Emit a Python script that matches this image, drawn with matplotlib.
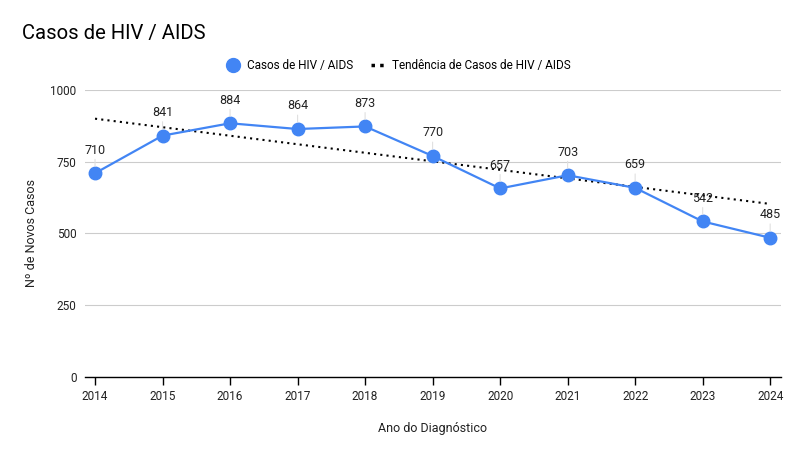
import matplotlib
matplotlib.use('Agg')
import matplotlib.pyplot as plt
from matplotlib.lines import Line2D

plt.rcParams['font.family'] = ['Roboto', 'DejaVu Sans']

# ════════════════ 数据 ════════════════
anos = [2014, 2015, 2016, 2017, 2018, 2019, 2020, 2021, 2022, 2023, 2024]
casos = [710, 841, 884, 864, 873, 770, 657, 703, 659, 542, 485]
# trend line (start / end)
tendencia_anos = [2014, 2024]
tendencia_vals = [900, 603]
yticks = [0, 250, 500, 750, 1000]

AZUL = '#4285f4'

fig = plt.figure(figsize=(8.01, 4.54), dpi=100)
ax = fig.add_axes([0.106, 0.1696, 0.869, 0.6322])

ax.plot(anos, casos, color=AZUL, lw=1.6, marker='o', markersize=9,
        zorder=3, clip_on=False)
ax.plot(tendencia_anos, tendencia_vals, color='black', lw=1.5,
        linestyle=(0, (1, 2)), zorder=2)

for x, y in zip(anos, casos):
    ax.annotate(str(y), (x, y), xytext=(0, 12), textcoords='offset points',
                ha='center', va='bottom', fontsize=9, color='#222222',
                arrowprops=dict(arrowstyle='-', color='#e0e0e0', lw=0.8,
                                shrinkA=0, shrinkB=5))

ax.set_xlim(2013.85, 2024.16)
ax.set_ylim(0, 1000)
ax.set_xticks(anos)
ax.set_yticks(yticks)
ax.tick_params(axis='x', direction='out', length=6, width=1, colors='black',
               labelsize=8.5, labelcolor='#222222', pad=3)
ax.tick_params(axis='y', length=0, labelsize=8.5, labelcolor='#222222', pad=6)
ax.grid(axis='y', color='#cccccc', lw=0.8)
ax.set_axisbelow(True)
for s in ['top', 'right', 'left']:
    ax.spines[s].set_visible(False)
ax.spines['bottom'].set_color('black')
ax.spines['bottom'].set_linewidth(1)
ax.spines['bottom'].set_zorder(4)

ax.set_xlabel('Ano do Diagnóstico', fontsize=9, color='#222222', labelpad=14)
ax.set_ylabel('Nº de Novos Casos', fontsize=9, color='#222222', labelpad=9)

fig.text(0.027, 0.927, 'Casos de HIV / AIDS', fontsize=14.6, color='black',
         ha='left', va='center')

handles = [
    Line2D([], [], color=AZUL, marker='o', markersize=10, linestyle='none'),
    Line2D([], [], color='black', lw=2.5, linestyle=(0, (1, 1.5))),
]
fig.legend(handles, ['Casos de HIV / AIDS', 'Tendência de Casos de HIV / AIDS'],
           loc='center', bbox_to_anchor=(0.497, 0.855), ncol=2, frameon=False,
           fontsize=8.5, handlelength=1.2, columnspacing=1.5, handletextpad=0.6)

plt.savefig('out.png', dpi=100)
plt.close()
